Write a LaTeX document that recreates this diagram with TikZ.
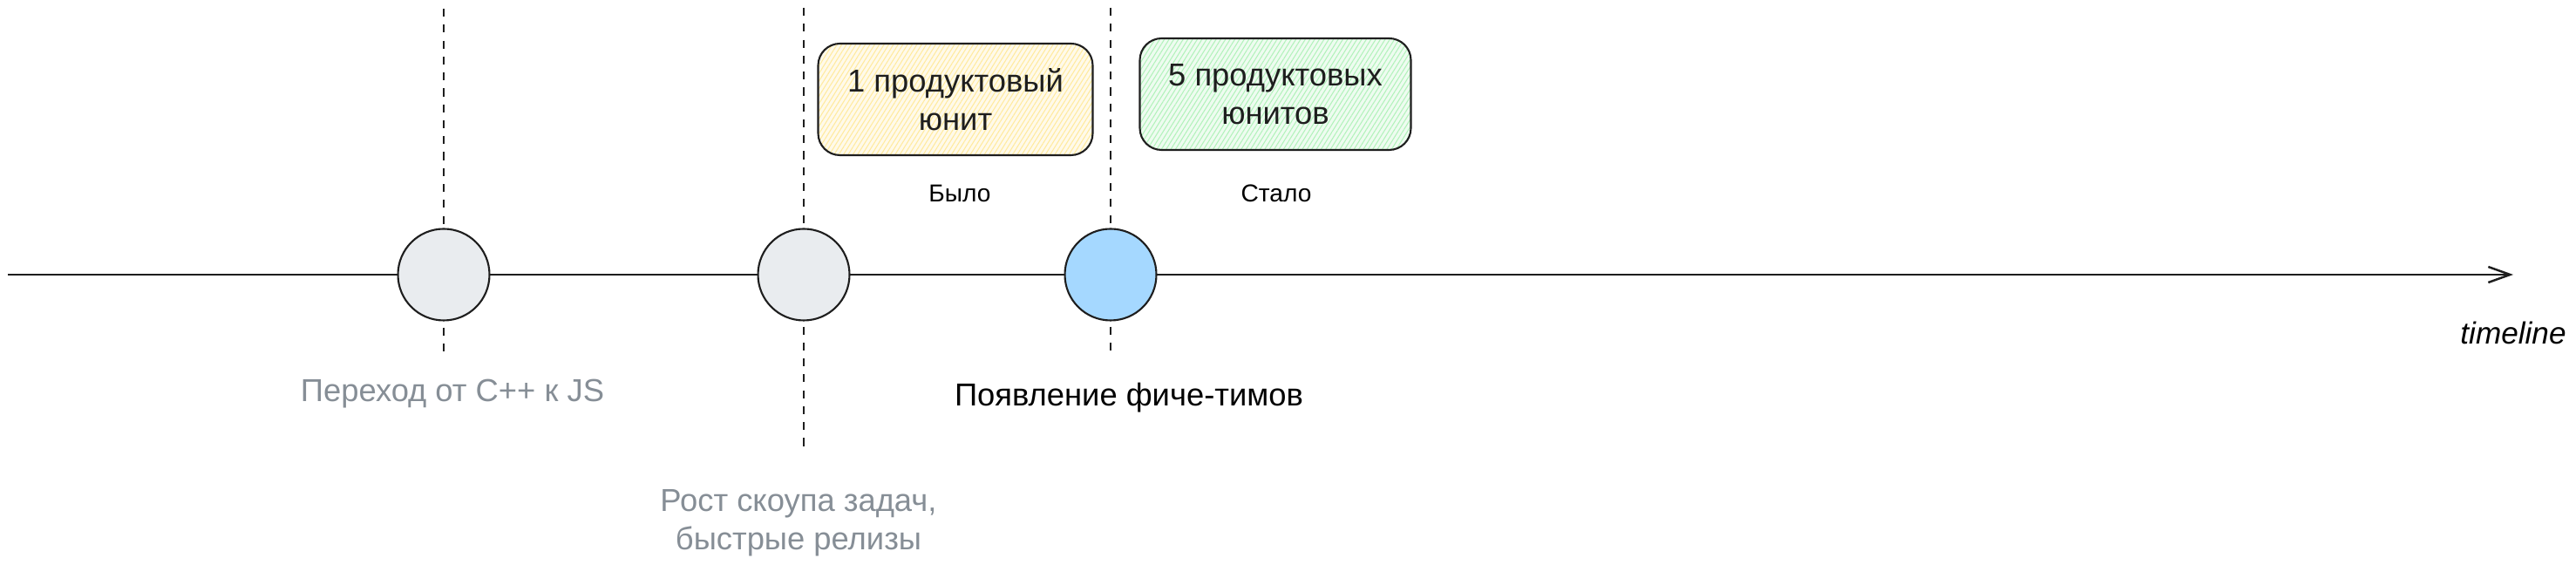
\documentclass[tikz,border=0pt]{standalone}
\usepackage{fontspec}
\setmainfont{Liberation Sans}
\usetikzlibrary{arrows.meta, patterns.meta}

\definecolor{strokegray}{HTML}{1E1E1E}
\definecolor{mutedgray}{HTML}{868E96}
\definecolor{pointgray}{HTML}{E9ECEF}
\definecolor{pointblue}{HTML}{A5D8FF}
\definecolor{wasyellow}{HTML}{FFEA9E}
\definecolor{nowgreen}{HTML}{B2F2BB}

\begin{document}
\begin{tikzpicture}[
  font=\fontsize{10.35}{12.4}\selectfont,
  line width=0.6pt,
  milestone/.style={circle, draw=strokegray, line width=0.6pt, minimum size=1.05cm, inner sep=0pt},
  guide/.style={draw=strokegray, line width=0.45pt, dash pattern=on 2.6pt off 2.6pt},
  unitbox/.style={draw=strokegray, line width=0.6pt, rounded corners=0.25cm,
    minimum height=1.28cm, align=center, text=strokegray,
    pattern={Lines[angle=58, distance=1.3pt, line width=0.3pt]}},
  note/.style={text=mutedgray, align=center}
]

\useasboundingbox (0,0) rectangle (29.55,-6.48);

% ------------------- Timeline axis ------------------- %
\coordinate (tl start) at (0.09,-3.15);
\coordinate (tl end) at (28.83,-3.15);
\draw[strokegray, line width=0.7pt, -{Straight Barb[length=0.25cm, width=0.18cm]}] (tl start) -- (tl end);

% Dashed guides through the milestones
\foreach \name/\x/\top/\bot in {cpp/5.09/0.10/4.11, scope/9.22/0.09/5.13, teams/12.74/0.09/4.11} {
  \coordinate (\name top) at (\x,-\top);
  \coordinate (\name bottom) at (\x,-\bot);
  \draw[guide] (\name top) -- (\name bottom);
}

% Milestones
\node[milestone, fill=pointgray] (cpp) at (5.09,-3.15) {};
\node[milestone, fill=pointgray] (scope) at (9.22,-3.15) {};
\node[milestone, fill=pointblue] (teams) at (12.74,-3.15) {};

% ------------------- Before / after units ------------------- %
\node[unitbox, minimum width=3.15cm, preaction={fill=wasyellow!22}, pattern color=wasyellow]
  (was box) at (10.96,-1.14) {1 продуктовый\\юнит};
\node[unitbox, minimum width=3.11cm, preaction={fill=nowgreen!22}, pattern color=nowgreen]
  (now box) at (14.63,-1.08) {5 продуктовых\\юнитов};
\node[font=\fontsize{8}{10}\selectfont] (was) at (11.01,-2.22) {Было};
\node[font=\fontsize{8}{10}\selectfont] (now) at (14.64,-2.22) {Стало};

% ------------------- Milestone labels ------------------- %
\node[note] (cpp label) at (5.19,-4.52) {Переход от C++ к JS};
\node (teams label) at (12.95,-4.56) {Появление фиче-тимов};
\node[note] (scope label) at (9.16,-6.0) {Рост скоупа задач,\\быстрые релизы};
\node[font=\itshape\fontsize{10}{12}\selectfont] (tl label) at (28.83,-3.82) {timeline};

\end{tikzpicture}
\end{document}
